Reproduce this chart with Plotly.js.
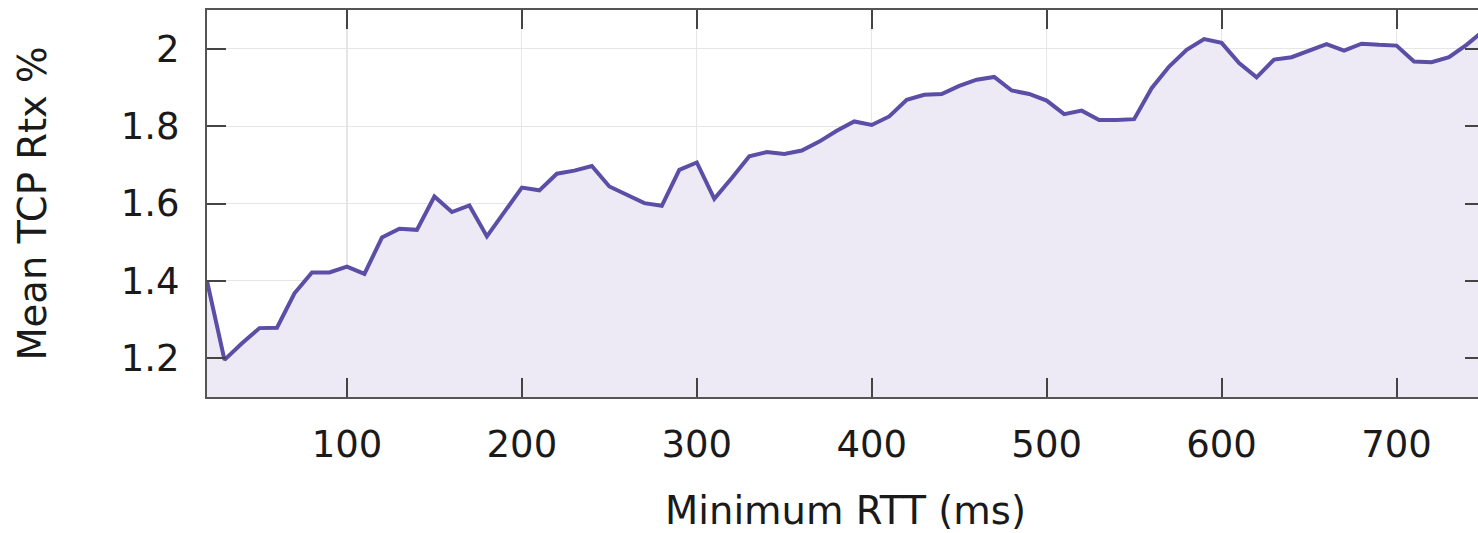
<!DOCTYPE html>
<html>
<head>
<meta charset="utf-8">
<script src="https://cdn.plot.ly/plotly-3.0.1.min.js"></script>
<style>
html, body { margin: 0; padding: 0; overflow: hidden; background: #fff; }
#chart { width: 1490px; height: 533px; }
</style>
</head>
<body>
<div id="chart"></div>
<script>
const rttMs = [20,30,40,50,60,70,80,90,100,110,120,130,140,150,160,170,180,190,200,
  210,220,230,240,250,260,270,280,290,300,310,320,330,340,350,360,370,380,390,400,
  410,420,430,440,450,460,470,480,490,500,510,520,530,540,550,560,570,580,590,600,
  610,620,630,640,650,660,670,680,690,700,710,720,730,740,750];
const meanRtx = [1.400,1.196,1.239,1.278,1.279,1.368,1.422,1.422,1.437,1.418,1.512,1.535,1.532,1.618,1.578,1.595,1.515,1.579,1.641,
  1.634,1.677,1.685,1.697,1.644,1.622,1.601,1.594,1.687,1.706,1.612,1.666,1.722,1.733,1.728,1.737,1.760,1.788,1.812,1.803,
  1.825,1.868,1.881,1.883,1.904,1.920,1.927,1.892,1.883,1.866,1.831,1.840,1.816,1.816,1.818,1.898,1.954,1.997,2.025,2.015,
  1.963,1.926,1.972,1.978,1.996,2.012,1.995,2.013,2.010,2.008,1.967,1.965,1.978,2.010,2.047];
const xTicks = [100,200,300,400,500,600,700];
const yTicks = [1.2,1.4,1.6,1.8,2];

const fontFam = 'DejaVu Sans, sans-serif';
const trace = {
  x: rttMs, y: meanRtx, type: 'scatter', mode: 'lines',
  fill: 'tozeroy', fillcolor: '#edeaf5',
  line: { color: '#5a4ea6', width: 4 },
  hoverinfo: 'x+y'
};
const axisCommon = {
  showline: true, mirror: 'ticks', linecolor: '#555', linewidth: 2,
  ticks: 'inside', ticklen: 19, tickwidth: 2, tickcolor: '#444',
  showgrid: true, gridcolor: '#e6e6e6', gridwidth: 1.2,
  zeroline: false,
  tickfont: { family: fontFam, size: 37, color: '#1a1a1a' }
};
const layout = {
  width: 1490, height: 533,
  margin: { l: 207, r: 6, t: 10, b: 136 },
  paper_bgcolor: '#fff', plot_bgcolor: '#fff',
  showlegend: false,
  xaxis: Object.assign({}, axisCommon, {
    range: [20, 750], tickvals: xTicks, ticklabelstandoff: 14,
    title: { text: 'Minimum RTT (ms)', font: { family: fontFam, size: 38.5, color: '#1a1a1a' }, standoff: 32 }
  }),
  yaxis: Object.assign({}, axisCommon, {
    range: [1.1, 2.1], tickvals: yTicks, ticktext: yTicks.map(v => String(v)), ticklabelstandoff: 18,
    title: { text: 'Mean TCP Rtx %', font: { family: fontFam, size: 38.5, color: '#1a1a1a' }, standoff: 62 }
  })
};
Plotly.newPlot('chart', [trace], layout, { displayModeBar: false, staticPlot: true });
</script>
</body>
</html>
